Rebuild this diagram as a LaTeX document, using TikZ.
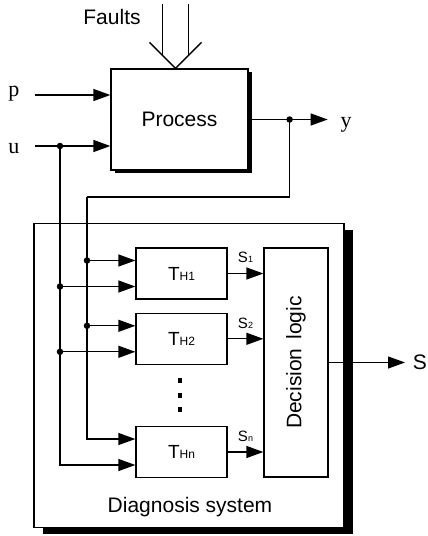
\documentclass[tikz,border=0pt]{standalone}
\usepackage{fontspec}
\setmainfont{Liberation Sans}
\newfontfamily\sigfont{Liberation Serif}
\usetikzlibrary{positioning,arrows.meta,shadows}

\begin{document}
\begin{tikzpicture}[x=1pt,y=-1pt,
        line width=1.3pt,
        blk/.style={rectangle,draw,fill=white,font=\fontsize{21}{24}\selectfont},
        procbox/.style={blk,minimum width=137pt,minimum height=101pt,
          drop shadow={shadow xshift=4pt,shadow yshift=-3pt,opacity=1,fill=black}},
        framebox/.style={rectangle,draw,fill=white,minimum width=310pt,minimum height=304pt,
          drop shadow={shadow xshift=9pt,shadow yshift=-6pt,opacity=1,fill=black}},
        testbox/.style={blk,minimum width=91pt,minimum height=51pt,font=\fontsize{19}{22}\selectfont},
        arrow/.style={-{Triangle[length=17pt,width=12pt]}},
        dot/.style={circle,fill,inner sep=0pt,minimum size=6.5pt},
        sq/.style={rectangle,fill,inner sep=0pt,minimum width=4.5pt,minimum height=5pt},
        sig/.style={font=\fontsize{22}{24}\selectfont\sigfont},
        lbl/.style={font=\fontsize{21}{24}\selectfont},
        slbl/.style={font=\fontsize{15}{16}\selectfont,inner sep=0pt}]
    \fill[white] (0,0) rectangle (428,536);
    \useasboundingbox (0,0) rectangle (428,536);
    % process part
    \node[procbox] (proc) at (179.5,119.5) {Process};
    \node[lbl,anchor=base] (faults) at (112,24) {Faults};
    \coordinate (ftip) at ([xshift=-4pt]proc.north);
    \draw ([shift={(-26,-26)}]ftip) -- (ftip) -- ([shift={(26,-26)}]ftip);
    \draw ([shift={(-13,-13)}]ftip) -- ([shift={(-13,-64)}]ftip);
    \draw ([shift={(13,-13)}]ftip) -- ([shift={(13,-64)}]ftip);
    \node[sig,anchor=base] (p) at (14,96) {p};
    \node[sig,anchor=base] (u) at (14,153) {u};
    \coordinate (pin) at (35,95);
    \coordinate (uin) at (35,146);
    \coordinate (udot) at (60,146);
    \draw[arrow] (pin) -- (pin -| proc.west);
    \draw[arrow] (uin) -- (uin -| proc.west);
    \coordinate (ydot) at ([xshift=41pt]proc.east);
    \coordinate (yout) at ([xshift=79pt]proc.east);
    \draw[arrow] (proc) -- (yout);
    \node[sig,anchor=base] (y) at (346,127) {y};
    % diagnosis system
    \node[framebox] (diag) at (189,375.5) {};
    \node[lbl,anchor=base] (dlbl) at (190,512) {Diagnosis system};
    \node[testbox] (t1) at (181.5,273.5) {T{\fontsize{12}{12}\selectfont H1}};
    \node[testbox,below=13pt of t1] (t2) {T{\fontsize{12}{12}\selectfont H2}};
    \node[testbox] (tn) at (181.5,452) {T{\fontsize{12}{12}\selectfont Hn}};
    \node[blk,minimum width=64pt,minimum height=229pt] (dec) at (296,362.5)
      {\rotatebox{90}{Decision\hspace{9pt}logic}};
    \foreach \k in {0,1,2}
      \node[sq] at ([yshift=-16pt-\k*14.5pt,xshift=-1.5pt]t2.south) {};
    \draw[arrow] (t1) -- node[slbl,above=10pt]{S{\fontsize{9}{9}\selectfont 1}} (t1 -| dec.west);
    \draw[arrow] (t2) -- node[slbl,above=10pt]{S{\fontsize{9}{9}\selectfont 2}} (t2 -| dec.west);
    \draw[arrow] (tn) -- node[slbl,above=10pt]{S{\fontsize{9}{9}\selectfont n}} (tn -| dec.west);
    \coordinate (sout) at (405,362.5);
    \draw[arrow] (dec) -- (sout);
    \node[lbl,right=4pt of sout] (s) {S};
    % inputs of the tests
    \coordinate (fbx) at (87,197);
    \foreach \t in {t1,t2,tn} {
      \coordinate (up\t) at ([yshift=13pt]\t.west);
      \coordinate (lo\t) at ([yshift=-13pt]\t.west);
    }
    \draw (ydot) |- (fbx);
    \draw[arrow] (fbx) |- (uptn);
    \draw[arrow] (udot) |- (lotn);
    \foreach \t in {t1,t2} {
      \draw[arrow] (fbx |- up\t) -- (up\t);
      \draw[arrow] (udot |- lo\t) -- (lo\t);
      \node[dot] at (fbx |- up\t) {};
      \node[dot] at (udot |- lo\t) {};
    }
    \node[dot] at (ydot) {};
    \node[dot] at (udot) {};
\end{tikzpicture}
\end{document}
